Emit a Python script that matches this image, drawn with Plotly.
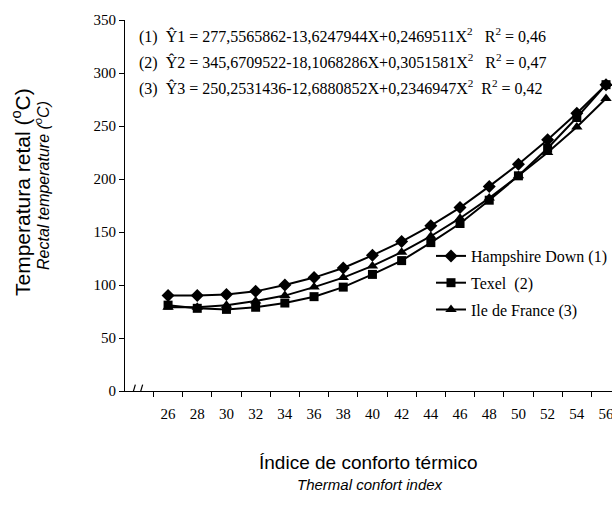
import plotly.graph_objects as go

# ---- data ----
x_index = [26, 28, 30, 32, 34, 36, 38, 40, 42, 44, 46, 48, 50, 52, 54, 56]
hampshire = [90, 90, 91, 94, 100, 107, 116, 128, 141, 156, 173, 193, 214, 237, 262, 289]
texel = [81, 78, 77, 79, 83, 89, 98, 110, 123, 140, 158, 180, 203, 229, 258, 289]
ile_de_france = [79, 79, 81, 85, 90, 98, 107, 118, 131, 146, 163, 182, 203, 225, 249, 276]
y_ticks = [0, 50, 100, 150, 200, 250, 300, 350]
x_minor_ticks = [25, 27, 29, 31, 33, 35, 37, 39, 41, 43, 45, 47, 49, 51, 53, 55]
names = ["Hampshire Down (1)", "Texel  (2)", "Ile de France (3)"]
equations = [
    "(1)  Ŷ1 = 277,5565862-13,6247944X+0,2469511X<sup>2</sup>   R<sup>2</sup> = 0,46",
    "(2)  Ŷ2 = 345,6709522-18,1068286X+0,3051581X<sup>2</sup>   R<sup>2</sup> = 0,47",
    "(3)  Ŷ3 = 250,2531436-12,6880852X+0,2346947X<sup>2</sup>  R<sup>2</sup> = 0,42",
]

W, H = 612, 507
L, R, T, B = 125, 0, 20, 116
pw, ph = W - L - R, H - T - B

def px(xp):
    return (xp - L) / pw

def py(yp):
    return (H - B - yp) / ph

SERIF = "Liberation Serif"
SANS = "Liberation Sans"

fig = go.Figure()
symbols = ["diamond", "square", "triangle-up"]
sizes = [10, 9, 10]
for name, ys, sym, sz, grp in zip(names, [hampshire, texel, ile_de_france], symbols, sizes, ["a", "b", "c"]):
    fig.add_trace(go.Scatter(
        x=x_index, y=ys, name=name, mode="lines+markers",
        line=dict(color="black", width=2),
        marker=dict(symbol=sym, size=sz, color="black"),
        cliponaxis=False, legendgroup=grp,
    ))

fig.update_layout(
    width=W, height=H,
    margin=dict(l=L, r=R, t=T, b=B, autoexpand=False),
    plot_bgcolor="white", paper_bgcolor="white",
    showlegend=True,
    legend=dict(
        x=px(431), y=py(239), xanchor="left", yanchor="top",
        bgcolor="rgba(0,0,0,0)", font=dict(family=SERIF, size=16, color="black"),
        traceorder="grouped", tracegroupgap=3,
    ),
    xaxis=dict(
        range=[23.05, 56.41], showgrid=False, zeroline=False, automargin=False,
        showline=True, linecolor="black", linewidth=1,
        tickmode="array", tickvals=x_index, ticktext=[str(v) for v in x_index],
        ticks="outside", ticklen=9, tickcolor="rgba(0,0,0,0)",
        ticklabeloverflow="allow",
        tickfont=dict(family=SERIF, size=15, color="black"),
        minor=dict(tickmode="array", tickvals=x_minor_ticks, ticks="outside",
                   ticklen=5, tickcolor="black", showgrid=False),
    ),
    yaxis=dict(
        range=[0, 350], showgrid=False, zeroline=False, automargin=False,
        showline=True, linecolor="black", linewidth=1,
        tickmode="array", tickvals=y_ticks,
        ticks="outside", ticklen=5, tickcolor="black",
        tickfont=dict(family=SERIF, size=15, color="black"),
    ),
)

annotations = []
for i, eq in enumerate(equations):
    annotations.append(dict(
        text=eq, xref="paper", yref="paper", x=px(137), y=py(36 + 26 * i),
        xanchor="left", yanchor="middle", showarrow=False,
        font=dict(family=SERIF, size=16, color="black"),
    ))
annotations += [
    dict(text="Temperatura retal (<sup>o</sup>C)", xref="paper", yref="paper",
         x=px(21), y=py(192), textangle=-90, showarrow=False,
         xanchor="center", yanchor="middle",
         font=dict(family=SANS, size=21, color="black")),
    dict(text="<i>Rectal temperature (<sup>o</sup>C)</i>", xref="paper", yref="paper",
         x=px(42), y=py(186), textangle=-90, showarrow=False,
         xanchor="center", yanchor="middle",
         font=dict(family=SANS, size=16, color="black")),
    dict(text="Índice de conforto térmico", xref="paper", yref="paper",
         x=px(368), y=py(462), showarrow=False, xanchor="center", yanchor="middle",
         font=dict(family=SANS, size=19, color="black")),
    dict(text="<i>Thermal confort index</i>", xref="paper", yref="paper",
         x=px(370), y=py(484), showarrow=False, xanchor="center", yanchor="middle",
         font=dict(family=SANS, size=15, color="black")),
]
fig.update_layout(annotations=annotations)

# axis break marks and small y-axis stub below zero
for x0, x1 in [(23.50, 23.76), (24.00, 24.26)]:
    fig.add_shape(type="line", xref="x", yref="y", x0=x0, x1=x1, y0=-6, y1=6,
                  line=dict(color="black", width=1.2))
fig.add_shape(type="line", xref="x", yref="y", x0=23.05, x1=23.05, y0=0, y1=-4,
              line=dict(color="black", width=1))

fig.write_html("out.html")
